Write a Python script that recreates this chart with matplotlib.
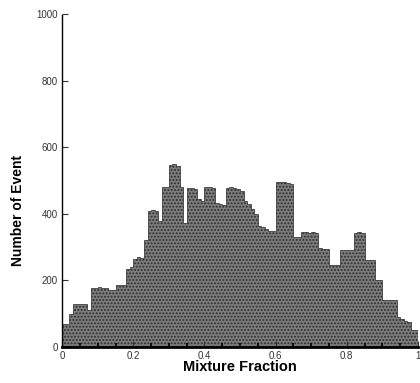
import numpy as np
import matplotlib
matplotlib.use("Agg")
import matplotlib.pyplot as plt

# Bin edges: 0.00 .. 1.00 in steps of 0.01 (100 bins)
bin_edges = np.round(np.arange(0, 1.0001, 0.01), 2)
counts = [
    70, 70, 100, 130, 130, 130, 130, 110, 178, 178,      # 0.00-0.09
    180, 178, 178, 170, 170, 185, 186, 185, 235, 240,    # 0.10-0.19
    265, 270, 268, 320, 410, 412, 410, 380, 480, 480,    # 0.20-0.29
    548, 550, 545, 480, 372, 478, 478, 476, 445, 440,    # 0.30-0.39
    480, 482, 478, 432, 430, 428, 478, 480, 478, 476,    # 0.40-0.49
    470, 440, 430, 415, 400, 365, 360, 355, 350, 350,    # 0.50-0.59
    495, 497, 495, 494, 490, 330, 330, 345, 345, 344,    # 0.60-0.69
    345, 342, 297, 295, 293, 246, 245, 245, 291, 290,    # 0.70-0.79
    290, 291, 342, 345, 342, 262, 261, 260, 201, 200,    # 0.80-0.89
    141, 140, 140, 140, 90, 85, 78, 75, 51, 50,          # 0.90-0.99
]

x_ticks = [0, 0.2, 0.4, 0.6, 0.8, 1.0]
x_tick_labels = ["0", "0.2", "0.4", "0.6", "0.8", "1"]
y_ticks = [0, 200, 400, 600, 800, 1000]
y_tick_labels = ["0", "200", "400", "600", "800", "1000"]

plt.rcParams['font.family'] = ['Liberation Sans', 'DejaVu Sans']
plt.rcParams['hatch.color'] = '#1e1e1e'
plt.rcParams['hatch.linewidth'] = 0.9

fig = plt.figure(figsize=(4.2, 3.83), dpi=100)
ax = fig.add_axes([0.148, 0.094, 0.847, 0.869])

ax.stairs(counts, bin_edges, fill=True, facecolor='#7c7c7c', edgecolor='#2a2a2a',
          hatch='.....', linewidth=0.5)

ax.set_xlim(0, 1.0)
ax.set_ylim(0, 1000)
ax.set_xticks(x_ticks)
ax.set_xticklabels(x_tick_labels)
ax.set_yticks(y_ticks)
ax.set_yticklabels(y_tick_labels)
ax.set_xticks(np.arange(0, 1.0001, 0.05), minor=True)

for s in ['top', 'right']:
    ax.spines[s].set_visible(False)
ax.spines['left'].set_linestyle((0, (1, 1)))
ax.spines['left'].set_linewidth(1.0)
ax.spines['bottom'].set_linewidth(2.0)

ax.tick_params(axis='both', which='major', labelsize=7, colors='#333333',
               direction='in', length=4, width=0.8)
ax.tick_params(axis='x', which='minor', direction='in', length=3, width=1.2)
ax.tick_params(axis='x', pad=3)
ax.tick_params(axis='y', pad=3)

ax.set_xlabel("Mixture Fraction", fontsize=10.5, fontweight='bold', labelpad=-1)
ax.set_ylabel("Number of Event", fontsize=10, fontweight='bold')
ax.yaxis.set_label_coords(-0.105, 0.41)

fig.savefig("out.png", dpi=100)
